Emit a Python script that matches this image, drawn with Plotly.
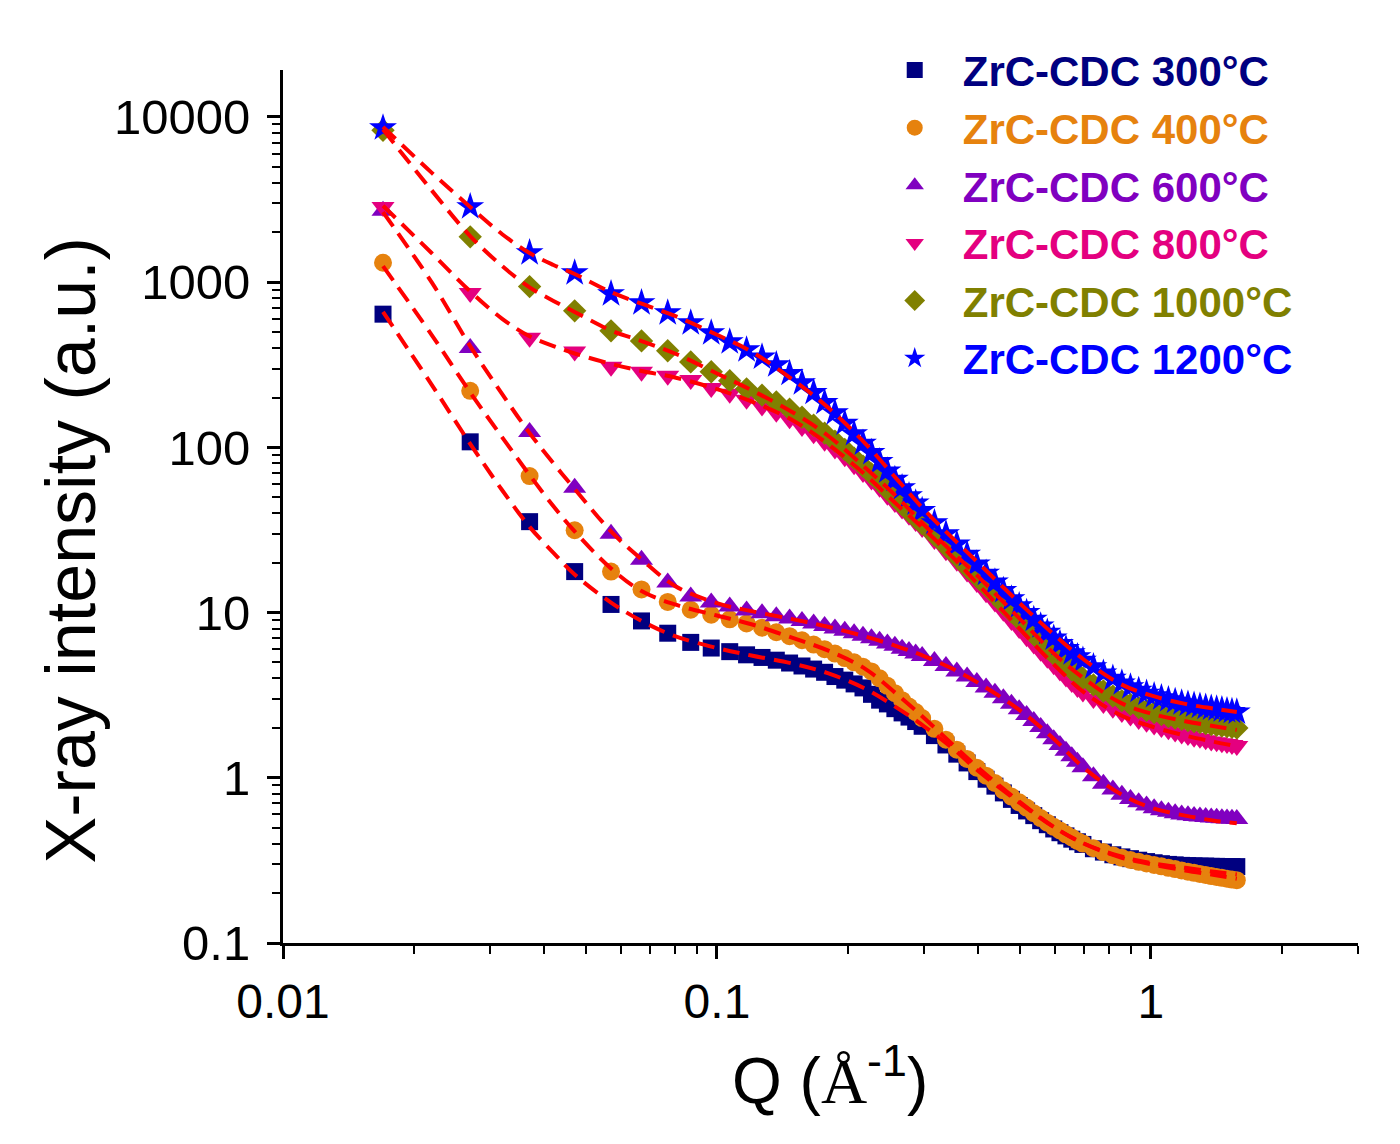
import plotly.graph_objects as go

# ---------------- data ----------------
Q = [0.017, 0.027, 0.037, 0.047, 0.057, 0.067, 0.077, 0.087, 0.097, 0.107,
     0.117, 0.127, 0.137, 0.147, 0.157, 0.167, 0.177, 0.187, 0.197, 0.207,
     0.217, 0.227, 0.237, 0.247, 0.257, 0.267, 0.277, 0.287, 0.297,
     0.317, 0.337, 0.357, 0.377, 0.397, 0.417, 0.437, 0.457, 0.477, 0.497,
     0.517, 0.537, 0.557, 0.577, 0.597, 0.617, 0.637, 0.657, 0.677, 0.697,
     0.737, 0.777, 0.817, 0.857, 0.897, 0.937, 0.977, 1.017, 1.057, 1.097,
     1.137, 1.177, 1.217, 1.257, 1.297, 1.337, 1.377, 1.417, 1.457, 1.497,
     1.537, 1.577]

I_300 = [640, 108, 35.5, 17.7, 11.2, 8.9, 7.5, 6.6, 6.1, 5.8,
         5.55, 5.35, 5.15, 4.95, 4.75, 4.55, 4.35, 4.1, 3.9, 3.7,
         3.5, 3.2, 2.95, 2.8, 2.62, 2.47, 2.33, 2.19, 2.05,
         1.8, 1.58, 1.39, 1.23, 1.09, 0.98, 0.89, 0.81, 0.74, 0.68,
         0.63, 0.59, 0.55, 0.52, 0.49, 0.465, 0.445, 0.425, 0.41, 0.395,
         0.372, 0.355, 0.342, 0.332, 0.324, 0.317, 0.311, 0.306, 0.302, 0.299,
         0.297, 0.295, 0.294, 0.293, 0.292, 0.292, 0.291, 0.291, 0.29, 0.29,
         0.29, 0.29]

I_400 = [1310, 220, 67, 31.5, 17.7, 13.8, 11.6, 10.4, 9.7, 9.1,
         8.6, 8.1, 7.6, 7.2, 6.8, 6.4, 6.0, 5.65, 5.3, 5.0,
         4.7, 4.4, 4.0, 3.6, 3.25, 2.95, 2.7, 2.5, 2.3,
         1.98, 1.7, 1.48, 1.3, 1.15, 1.03, 0.93, 0.84, 0.77, 0.71,
         0.66, 0.61, 0.57, 0.535, 0.505, 0.48, 0.455, 0.435, 0.415, 0.4,
         0.375, 0.355, 0.34, 0.328, 0.318, 0.31, 0.303, 0.297, 0.291, 0.285,
         0.28, 0.275, 0.27, 0.266, 0.262, 0.258, 0.254, 0.251, 0.248, 0.245,
         0.242, 0.24]

I_600 = [2700, 400, 124, 57, 30, 20.9, 15.2, 12.5, 11.5, 10.9,
         10.3, 9.9, 9.5, 9.2, 8.9, 8.6, 8.3, 8.0, 7.75, 7.5,
         7.25, 7.0, 6.75, 6.5, 6.3, 6.05, 5.85, 5.65, 5.45,
         5.1, 4.75, 4.4, 4.1, 3.8, 3.52, 3.27, 3.03, 2.81, 2.6,
         2.4, 2.21, 2.03, 1.86, 1.71, 1.58, 1.46, 1.35, 1.25, 1.16,
         1.02, 0.92, 0.85, 0.79, 0.745, 0.71, 0.68, 0.655, 0.637, 0.622,
         0.61, 0.6, 0.593, 0.587, 0.582, 0.578, 0.575, 0.572, 0.569, 0.567,
         0.565, 0.563]

I_800 = [2850, 860, 460, 380, 307, 287, 271, 256, 229, 211,
         194, 177, 162, 148, 133, 120, 108, 97, 87, 78,
         70, 63, 57, 51, 46, 42, 38.5, 35.3, 32.5,
         27.5, 23.5, 20.3, 17.5, 15.1, 13.1, 11.5, 10.1, 8.9, 7.95,
         7.1, 6.4, 5.8, 5.25, 4.8, 4.4, 4.05, 3.75, 3.5, 3.28,
         3.0, 2.8, 2.62, 2.47, 2.35, 2.24, 2.15, 2.07, 2.0, 1.94,
         1.88, 1.83, 1.79, 1.75, 1.72, 1.69, 1.66, 1.64, 1.62, 1.6,
         1.58, 1.56]

I_1000 = [8300, 1880, 940, 670, 507, 441, 384, 329, 287, 253,
          226, 207, 188, 170, 152, 136, 122, 109, 97, 86,
          77, 69, 62, 55.5, 50, 45, 41, 37.5, 34.5,
          29.5, 25.3, 21.8, 18.8, 16.5, 14.5, 12.8, 11.3, 10.1, 9.1,
          8.2, 7.4, 6.7, 6.1, 5.6, 5.2, 4.85, 4.5, 4.25, 4.0,
          3.65, 3.35, 3.12, 2.93, 2.78, 2.66, 2.56, 2.48, 2.41, 2.35,
          2.3, 2.26, 2.22, 2.19, 2.16, 2.13, 2.1, 2.08, 2.06, 2.04,
          2.02, 2.0]

I_1200 = [8580, 2860, 1505, 1138, 850, 750, 652, 567, 493, 435,
          389, 352, 316, 280, 246, 215, 187, 162, 140, 121,
          106, 93, 82, 72, 64, 57, 51, 46, 41.5,
          35, 30, 26, 22.5, 19.7, 17.3, 15.3, 13.6, 12.1, 11.0,
          10.0, 9.1, 8.3, 7.6, 7.0, 6.5, 6.05, 5.7, 5.4, 5.15,
          4.7, 4.3, 4.0, 3.75, 3.55, 3.38, 3.25, 3.14, 3.05, 2.97,
          2.9, 2.84, 2.79, 2.75, 2.71, 2.67, 2.64, 2.61, 2.58, 2.55,
          2.52, 2.5]

FIT_Q = [0.017, 0.022, 0.027, 0.032, 0.037, 0.042, 0.047, 0.057, 0.067, 0.08,
         0.1, 0.12, 0.15, 0.18, 0.22, 0.26, 0.3, 0.35, 0.4, 0.5,
         0.6, 0.7, 0.85, 1.0, 1.2, 1.4, 1.577]

FIT_300 = [660, 240, 105, 55, 33, 23, 17, 11.5, 8.9, 7.2,
           6.1, 5.5, 4.9, 4.3, 3.45, 2.65, 2.05, 1.5, 1.1, 0.7,
           0.5, 0.4, 0.335, 0.305, 0.285, 0.27, 0.26]
FIT_400 = [1250, 480, 215, 115, 68, 44, 31, 18.5, 13.5, 11.2,
           9.6, 8.5, 7.0, 5.9, 4.55, 3.2, 2.3, 1.58, 1.15, 0.71,
           0.5, 0.4, 0.33, 0.3, 0.275, 0.258, 0.245]
FIT_600 = [2650, 1000, 410, 210, 122, 80, 56, 31, 21, 14.5,
           11.4, 10.2, 9.1, 8.2, 7.15, 6.25, 5.45, 4.55, 3.75, 2.55,
           1.7, 1.15, 0.8, 0.66, 0.59, 0.55, 0.53]
FIT_800 = [2900, 1500, 880, 600, 470, 410, 370, 320, 290, 265,
           225, 190, 145, 105, 68, 45, 32, 21.5, 14.8, 7.9,
           4.8, 3.3, 2.4, 2.05, 1.8, 1.65, 1.55]
FIT_1000 = [8400, 3600, 1900, 1250, 930, 770, 660, 510, 440, 370,
            280, 222, 162, 118, 75, 50, 34, 23, 16.5, 9.1,
            5.6, 4.0, 2.85, 2.45, 2.2, 2.05, 1.95]
FIT_1200 = [8700, 4600, 2850, 1950, 1500, 1270, 1120, 870, 740, 625,
            480, 380, 255, 175, 105, 64, 42, 28, 20, 11.3,
            7.3, 5.2, 3.7, 3.15, 2.8, 2.62, 2.5]

NAMES = ["ZrC-CDC 300°C", "ZrC-CDC 400°C", "ZrC-CDC 600°C",
         "ZrC-CDC 800°C", "ZrC-CDC 1000°C", "ZrC-CDC 1200°C"]
Y_TICKS = [0.1, 1, 10, 100, 1000, 10000]
Y_TICK_TEXT = ["0.1", "1", "10", "100", "1000", "10000"]
X_TICKS = [0.01, 0.1, 1]
X_TICK_TEXT = ["0.01", "0.1", "1"]

# ---------------- styles ----------------
COLORS = ["#000080", "#E6820E", "#8000C0", "#E4007F", "#808000", "#0000FF"]
SYMBOLS = ["square", "circle", "triangle-up", "triangle-down", "diamond", "star"]
SIZES = [17, 18, 20, 20, 18, 21]
FONT = "Arial, Liberation Sans, sans-serif"

series = [I_300, I_400, I_600, I_800, I_1000, I_1200]
fits = [FIT_300, FIT_400, FIT_600, FIT_800, FIT_1000, FIT_1200]

fig = go.Figure()
for name, vals, c, s, sz in zip(NAMES, series, COLORS, SYMBOLS, SIZES):
    fig.add_trace(go.Scatter(
        x=Q, y=vals, mode="markers",
        name=f"<span style='color:{c}'>{name}</span>",
        marker=dict(symbol=s, size=sz, color=c, line=dict(width=0)),
    ))
for fv in fits:
    fig.add_trace(go.Scatter(
        x=FIT_Q, y=fv, mode="lines", showlegend=False,
        line=dict(color="#FF0000", width=4, dash="17px,9px", shape="spline"),
        hoverinfo="skip",
    ))

axis_common = dict(
    showline=True, linecolor="black", linewidth=3, mirror=False,
    showgrid=False, zeroline=False, ticks="outside", ticklen=13,
    tickwidth=2.5, tickcolor="black",
)

fig.update_xaxes(
    type="log", range=[-2, 0.4771], tickvals=X_TICKS, ticktext=X_TICK_TEXT,
    tickfont=dict(family=FONT, size=48, color="black"),
    ticklabelstandoff=1,
    minor=dict(ticks="outside", ticklen=8, tickwidth=2, tickcolor="black",
               dtick="D1", showgrid=False),
    **axis_common,
)
fig.update_yaxes(
    type="log", range=[-1, 4.284], tickvals=Y_TICKS, ticktext=Y_TICK_TEXT,
    tickfont=dict(family=FONT, size=49, color="black"),
    ticklabelstandoff=7,
    minor=dict(ticks="outside", ticklen=8, tickwidth=2, tickcolor="black",
               dtick="D1", showgrid=False),
    **axis_common,
)

fig.add_annotation(
    text="X-ray intensity (a.u.)", textangle=-90, showarrow=False,
    xref="paper", yref="paper", x=-0.197, y=0.45,
    xanchor="center", yanchor="middle",
    font=dict(family=FONT, size=70, color="black"),
)
fig.add_annotation(
    text="Q (<span style='font-family:Liberation Serif, Times New Roman, serif'>Å</span><sup>-1</sup>)",
    showarrow=False, xref="paper", yref="paper", x=0.5088, y=-0.152,
    xanchor="center", yanchor="middle",
    font=dict(family=FONT, size=64, color="black"),
)

fig.update_layout(
    width=1400, height=1144,
    margin=dict(l=275, r=50, t=62, b=209, autoexpand=False),
    paper_bgcolor="white", plot_bgcolor="white",
    showlegend=True,
    legend=dict(
        x=0.543, y=1.0386, xanchor="left", yanchor="top",
        font=dict(family=FONT, size=42, weight="bold"),
        bgcolor="rgba(0,0,0,0)", borderwidth=0,
        itemsizing="trace", itemwidth=86, tracegroupgap=0,
    ),
)

fig.write_html("out.html")
